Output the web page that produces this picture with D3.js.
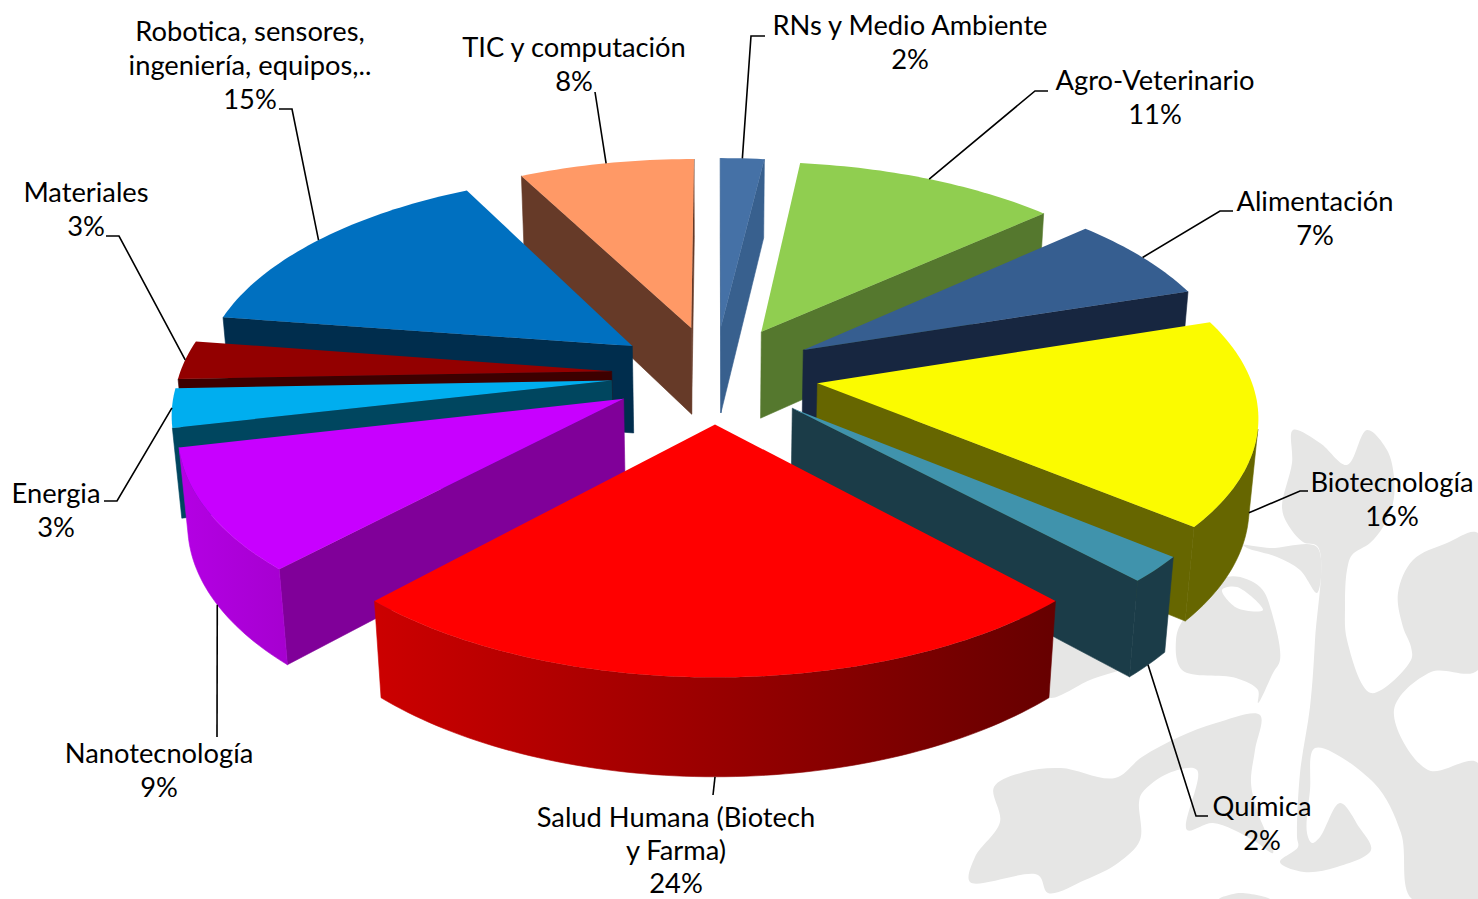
<!DOCTYPE html>
<html>
<head>
<meta charset="utf-8">
<script src="https://cdn.jsdelivr.net/npm/d3@7"></script>
<style>
  html, body { margin: 0; padding: 0; background: #fff; }
  svg { display: block; }
  .lbl { font-family: Lato, "Open Sans", sans-serif; font-size: 27.3px; fill: #000; text-anchor: middle; }
  .leader { fill: none; stroke: #000; stroke-width: 1.6; }
</style>
</head>
<body>
<div id="chart"></div>
<script>
const categories = ["RNs y Medio Ambiente", "Agro-Veterinario", "Alimentación", "Biotecnología", "Química",
  "Salud Humana (Biotech|y Farma)", "Nanotecnología", "Energia", "Materiales",
  "Robotica, sensores,|ingeniería, equipos,..", "TIC y computación"];
const values = [1.9, 11.4, 6.7, 16, 2, 24, 9.4, 3, 3, 15, 7.6];

const topColors  = ["#4571a6", "#90ce50", "#365e90", "#fbfb00", "#4093ac", "#ff0000", "#c800ff", "#00aeef", "#930000", "#0070c0", "#ff9966"];
const wallColors = ["#38608e", "#55782e", "#172640", "#666600", "#1b3c48", "#660000", "#800099", "#00465f", "#3d0000", "#002d4d", "#663a28"];
const rimLeft    = ["#38608e", "#55782e", "#172640", "#666600", "#1b3c48", "#cc0000", "#b400e4", "#00688c", "#6a0000", "#004f87", "#b26a47"];
const rimRight   = ["#38608e", "#55782e", "#172640", "#666600", "#1b3c48", "#660000", "#a600d0", "#00688c", "#6a0000", "#004f87", "#b26a47"];

// label centre x, first baseline y, line step
const labelX = [910, 1155, 1315, 1392, 1262, 676, 159, 56, 86, 250, 574];
const labelY = [35, 90, 211, 492, 816, 827, 763, 503, 202, 41, 57];
const labelStep = [34, 34, 34, 34, 34, 33, 34, 34, 34, 34, 34];
// leader: elbow points after the anchor on the slice
const leaderPts = [
  [[751, 36], [765, 36]], [[1035, 91], [1048, 91]], [[1220, 211], [1233, 211]], [[1300, 491], [1308, 491]],
  [[1196, 816], [1208, 816]], [[713, 795]], [[217, 737]], [[117, 501], [104, 501]],
  [[119, 236], [106, 236]], [[292, 109], [279, 109]], [[595, 92]]
];

// background ornament outlines
const ornament = [
  [[1293,430],[1320,443],[1347,465],[1367,430],[1387,450],[1394,477],[1393,503],[1383,527],[1370,543],[1352,555],[1347,570],[1345,607],[1347,640],
   [1371,693],[1411,660],[1411,647],[1403,627],[1398,593],[1413,560],[1447,543],[1478,533],[1478,670],[1431,672],[1394,710],[1428,770],[1478,763],[1478,899],[1412,899],
   [1401,833],[1374,783],[1315,748],[1310,790],[1307,833],[1312,843],[1320,837],[1340,803],[1359,827],[1371,850],[1337,867],[1304,872],[1280,862],[1298,847],[1297,837],
   [1300,773],[1310,707],[1315,640],[1318,547],[1303,542],[1287,523],[1282,507],[1292,463]],
  [[994,787],[1024,772],[1061,768],[1115,778],[1142,757],[1179,737],[1216,723],[1260,715],[1255,750],[1251,783],[1258,813],[1273,853],[1253,840],[1213,823],[1187,830],
   [1197,770],[1169,773],[1142,793],[1139,803],[1140,840],[1118,863],[1085,880],[1048,893],[1038,875],[970,882],[975,857],[1000,822]],
  [[1243,545],[1270,548],[1317,547],[1317,593],[1300,570],[1277,557],[1247,548]],
  [[1183,620],[1227,577],[1260,587],[1273,617],[1280,660],[1273,673],[1258,703],[1258,690],[1236,678],[1182,670],[1176,640]],
  [[1050,640],[1140,660],[1090,680],[1048,697]],
  [[1219,899],[1240,893],[1270,899]]
];
const ornamentHole = [[1222,590],[1237,587],[1263,610],[1237,608]];

const W = 1478, H = 899;
// camera: tilt t, distance D, all plane units in pie radii
const R = 432, cx = 715, cy = 374, tilt = 61.9 * Math.PI / 180, D = 6.5;
const explode = 0.24, thick = 0.235;
const sinT = Math.sin(tilt), cosT = Math.cos(tilt);

const sx = d3.scaleLinear().domain([-1, 1]).range([cx - R, cx + R]);
const sy = d3.scaleLinear().domain([-1, 1]).range([cy - R, cy + R]);

// X right, Y toward viewer, Z up
function project(X, Y, Z) {
  const yy = Y * cosT - Z * sinT;
  const dd = Y * sinT + Z * cosT;
  const s = D / (D - dd);
  return [sx(X * s), sy(yy * s)];
}
const cam = [0, D * sinT, D * cosT];

function faces(n, P) {
  return n[0] * (cam[0] - P[0]) + n[1] * (cam[1] - P[1]) + n[2] * (cam[2] - P[2]) > 0;
}

const arcs = d3.pie().sort(null).value((d) => d)(values);

const svg = d3.select("#chart").append("svg").attr("width", W).attr("height", H);
const defs = svg.append("defs");
const line = d3.line();
const blob = d3.line().curve(d3.curveCatmullRomClosed.alpha(0.5));

const ornG = svg.append("g");
ornG.selectAll("path").data(ornament).join("path")
  .attr("d", blob)
  .attr("fill", "#e6e6e5");
ornG.append("path").attr("d", blob(ornamentHole)).attr("fill", "#fff");

const slices = arcs.map((a, i) => {
  const mid = (a.startAngle + a.endAngle) / 2;
  return { a, i, mid, ox: Math.sin(mid) * explode, oy: -Math.cos(mid) * explode };
});

const pieG = svg.append("g");

// back slices first
slices.slice().sort((p, q) => -Math.cos(p.mid) - -Math.cos(q.mid)).forEach((sl) => {
  const g = pieG.append("g");
  const { a, i, ox, oy } = sl;
  const rim = (t) => [ox + Math.sin(t), oy - Math.cos(t)];
  const nSteps = Math.max(6, Math.ceil((a.endAngle - a.startAngle) / 0.02));
  const ts = d3.range(nSteps + 1).map((k) => a.startAngle + (a.endAngle - a.startAngle) * k / nSteps);

  // radial walls, kept only when they face the camera
  [[a.startAngle, -1], [a.endAngle, 1]].forEach(([t, side]) => {
    const n = [side * Math.cos(t), side * Math.sin(t), 0];
    const [ex, ey] = rim(t);
    if (!faces(n, [ox, oy, 0])) return;
    g.append("path")
      .attr("d", line([project(ox, oy, 0), project(ex, ey, 0), project(ex, ey, -thick), project(ox, oy, -thick)]) + "Z")
      .attr("fill", wallColors[i])
      .attr("stroke", wallColors[i]).attr("stroke-width", 0.6);
  });

  // outer wall
  const vis = ts.filter((t) => {
    const [ex, ey] = rim(t);
    return faces([Math.sin(t), -Math.cos(t), 0], [ex, ey, 0]);
  });
  if (vis.length > 1) {
    const up = vis.map((t) => project(...rim(t), 0));
    const dn = vis.map((t) => project(...rim(t), -thick)).reverse();
    const xs = up.concat(dn).map((p) => p[0]);
    const grad = defs.append("linearGradient").attr("id", `rim${i}`)
      .attr("gradientUnits", "userSpaceOnUse")
      .attr("x1", d3.min(xs)).attr("x2", d3.max(xs)).attr("y1", 0).attr("y2", 0);
    grad.append("stop").attr("offset", 0).attr("stop-color", rimLeft[i]);
    grad.append("stop").attr("offset", 1).attr("stop-color", rimRight[i]);
    g.append("path").attr("d", line(up.concat(dn)) + "Z")
      .attr("fill", `url(#rim${i})`)
      .attr("stroke", `url(#rim${i})`).attr("stroke-width", 0.6);
  }

  // top
  const topPts = [project(ox, oy, 0)].concat(ts.map((t) => project(...rim(t), 0)));
  g.append("path").attr("d", line(topPts) + "Z").attr("fill", topColors[i]);
});

// leaders and labels
const labelG = svg.append("g");
slices.forEach(({ a, i, mid, ox, oy }) => {
  const ex = ox + Math.sin(mid), ey = oy - Math.cos(mid);
  // front slices hook on the lower edge of the wall
  const anchor = -Math.cos(mid) > 0.17 ? project(ex, ey, -thick) : project(ex, ey, 0);
  labelG.append("path").attr("class", "leader").attr("d", line([anchor].concat(leaderPts[i])));

  const lines = categories[i].split("|").concat(`${Math.round(values[i])}%`);
  const t = labelG.append("text").attr("class", "lbl");
  lines.forEach((s, k) => {
    t.append("tspan").attr("x", labelX[i]).attr("y", labelY[i] + k * labelStep[i]).text(s);
  });
});
</script>
</body>
</html>
